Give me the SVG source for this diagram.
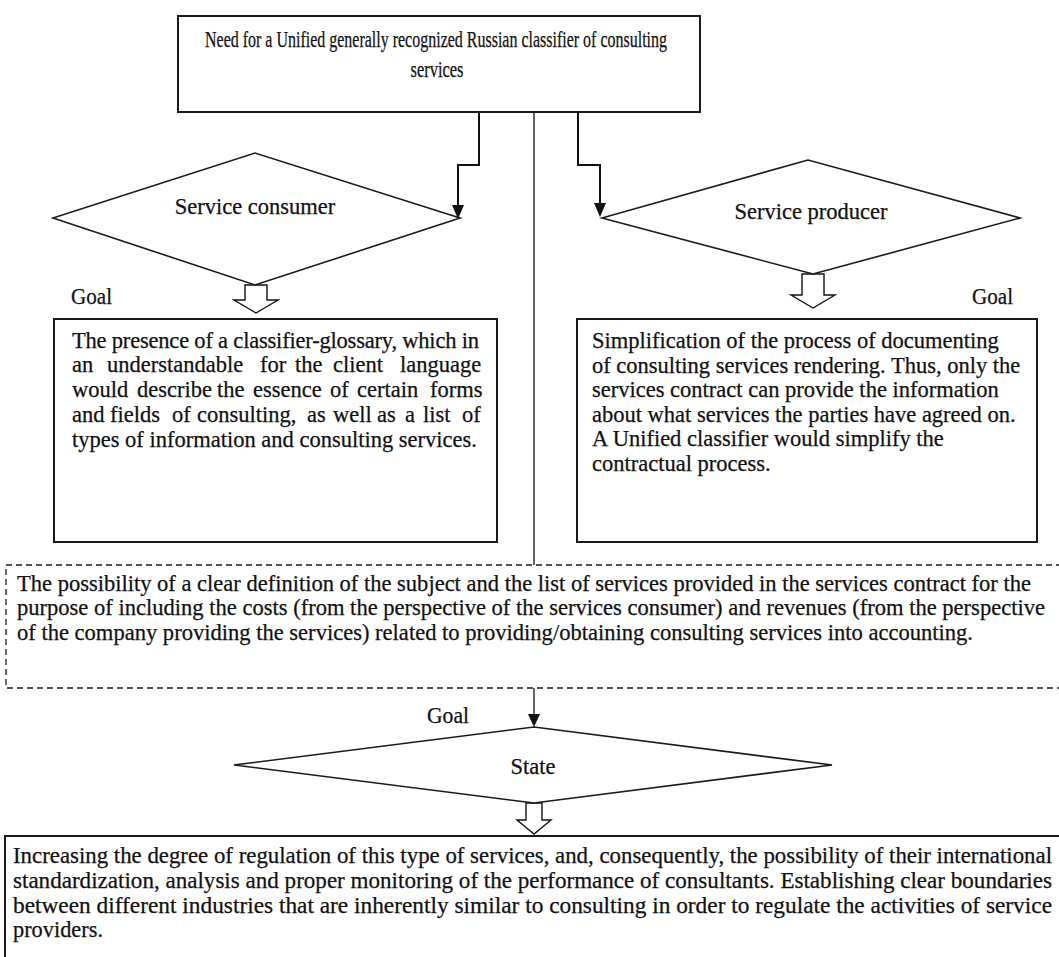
<svg xmlns="http://www.w3.org/2000/svg" width="1059" height="957" viewBox="0 0 1059 957">
<style>
.box{fill:#fff;stroke:#1a1a1a;stroke-width:2}
.dia{fill:#fff;stroke:#1a1a1a;stroke-width:1.6}
.dash{fill:none;stroke:#1a1a1a;stroke-width:1.3;stroke-dasharray:6,4}
.t{font-family:"Liberation Serif","Times New Roman",serif;font-size:22.5px;fill:#111;stroke:#111;stroke-width:0.25}
.c{text-anchor:middle}
.ln{fill:none;stroke:#111;stroke-width:2}
.thin{fill:none;stroke:#111;stroke-width:1.3}
.hollow{fill:#fff;stroke:#111;stroke-width:1.4}
.head{fill:#111}
</style>
<rect width="1059" height="957" fill="#fff"/>

<g id="connectors">
<line class="thin" x1="534" y1="112" x2="534" y2="565"/>
<path class="ln" d="M479,112 V165 H458 V206"/>
<path class="head" d="M452,205 L464,205 L458,219 Z"/>
<path class="ln" d="M578,112 V165 H600 V204"/>
<path class="head" d="M594,203 L606,203 L600,217 Z"/>
<line class="thin" x1="534" y1="688" x2="534" y2="716"/>
<path class="head" d="M528,714 L540,714 L534,727 Z"/>
<path class="hollow" d="M245,285 V300 H234 L256,313 L278,300 H267 V285 Z"/>
<path class="hollow" d="M802,274 V295 H791 L813,308 L835,295 H824 V274 Z"/>
<path class="hollow" d="M526,803 V820 H517 L534,834 L551,820 H542 V803 Z"/>
</g>

<g id="top">
<rect class="box" x="178" y="16" width="522" height="96"/>
<text class="t c" x="436" y="47" textLength="462" lengthAdjust="spacingAndGlyphs">Need for a Unified generally recognized Russian classifier of consulting</text>
<text class="t c" x="437" y="77" textLength="53" lengthAdjust="spacingAndGlyphs">services</text>
</g>

<g id="consumer">
<polygon class="dia" points="53,218 255,153 460,218 255,285"/>
<text class="t c" x="255" y="214">Service consumer</text>
</g>

<g id="producer">
<polygon class="dia" points="602,218 808,160 1020,218 813,274"/>
<text class="t c" x="811" y="219">Service producer</text>
</g>

<g id="goal-left"><text class="t" x="71" y="304" textLength="41" lengthAdjust="spacingAndGlyphs">Goal</text></g>
<g id="goal-right"><text class="t" x="972" y="304" textLength="41" lengthAdjust="spacingAndGlyphs">Goal</text></g>

<g id="consumer-goal">
<rect class="box" x="54" y="319" width="443" height="223"/>
<text class="t" x="72" y="348" textLength="407" lengthAdjust="spacing">The presence of a classifier-glossary, which in</text>
<text class="t" y="372"><tspan x="72">an</tspan><tspan x="107">understandable</tspan><tspan x="260">for</tspan><tspan x="295">the</tspan><tspan x="333">client</tspan><tspan x="400">language</tspan></text>
<text class="t" y="397"><tspan x="72">would</tspan><tspan x="137">describe</tspan><tspan x="217">the</tspan><tspan x="253">essence</tspan><tspan x="330">of</tspan><tspan x="357">certain</tspan><tspan x="430">forms</tspan></text>
<text class="t" y="422"><tspan x="72">and</tspan><tspan x="110">fields</tspan><tspan x="172">of</tspan><tspan x="197">consulting,</tspan><tspan x="307">as</tspan><tspan x="333">well</tspan><tspan x="377">as</tspan><tspan x="405">a</tspan><tspan x="423">list</tspan><tspan x="462">of</tspan></text>
<text class="t" x="72" y="447">types of information and consulting services.</text>
</g>

<g id="producer-goal">
<rect class="box" x="577" y="319" width="460" height="223"/>
<text class="t" x="592" y="348">Simplification of the process of documenting</text>
<text class="t" x="592" y="372.5">of consulting services rendering. Thus, only the</text>
<text class="t" x="592" y="397">services contract can provide the information</text>
<text class="t" x="592" y="421.5">about what services the parties have agreed on.</text>
<text class="t" x="592" y="446">A Unified classifier would simplify the</text>
<text class="t" x="592" y="470.5">contractual process.</text>
</g>

<g id="possibility">
<path class="dash" d="M1062,565 H6 V688 H1062"/>
<text class="t" x="17" y="591" textLength="1014" lengthAdjust="spacingAndGlyphs">The possibility of a clear definition of the subject and the list of services provided in the services contract for the</text>
<text class="t" x="17" y="615" textLength="1028" lengthAdjust="spacingAndGlyphs">purpose of including the costs (from the perspective of the services consumer) and revenues (from the perspective</text>
<text class="t" x="17" y="640" textLength="956" lengthAdjust="spacingAndGlyphs">of the company providing the services) related to providing/obtaining consulting services into accounting.</text>
</g>

<g id="goal-state"><text class="t" x="427" y="723" textLength="42" lengthAdjust="spacingAndGlyphs">Goal</text></g>

<g id="state">
<polygon class="dia" points="234,765 534,727 832,765 534,803"/>
<text class="t c" x="533" y="774">State</text>
</g>

<g id="result">
<rect class="box" x="5" y="836" width="1060" height="130"/>
<text class="t" x="13" y="863" textLength="1039" lengthAdjust="spacingAndGlyphs">Increasing the degree of regulation of this type of services, and, consequently, the possibility of their international</text>
<text class="t" x="13" y="888" textLength="1039" lengthAdjust="spacingAndGlyphs">standardization, analysis and proper monitoring of the performance of consultants. Establishing clear boundaries</text>
<text class="t" x="13" y="913" textLength="1039" lengthAdjust="spacingAndGlyphs">between different industries that are inherently similar to consulting in order to regulate the activities of service</text>
<text class="t" x="13" y="937" textLength="90" lengthAdjust="spacingAndGlyphs">providers.</text>
</g>
</svg>
